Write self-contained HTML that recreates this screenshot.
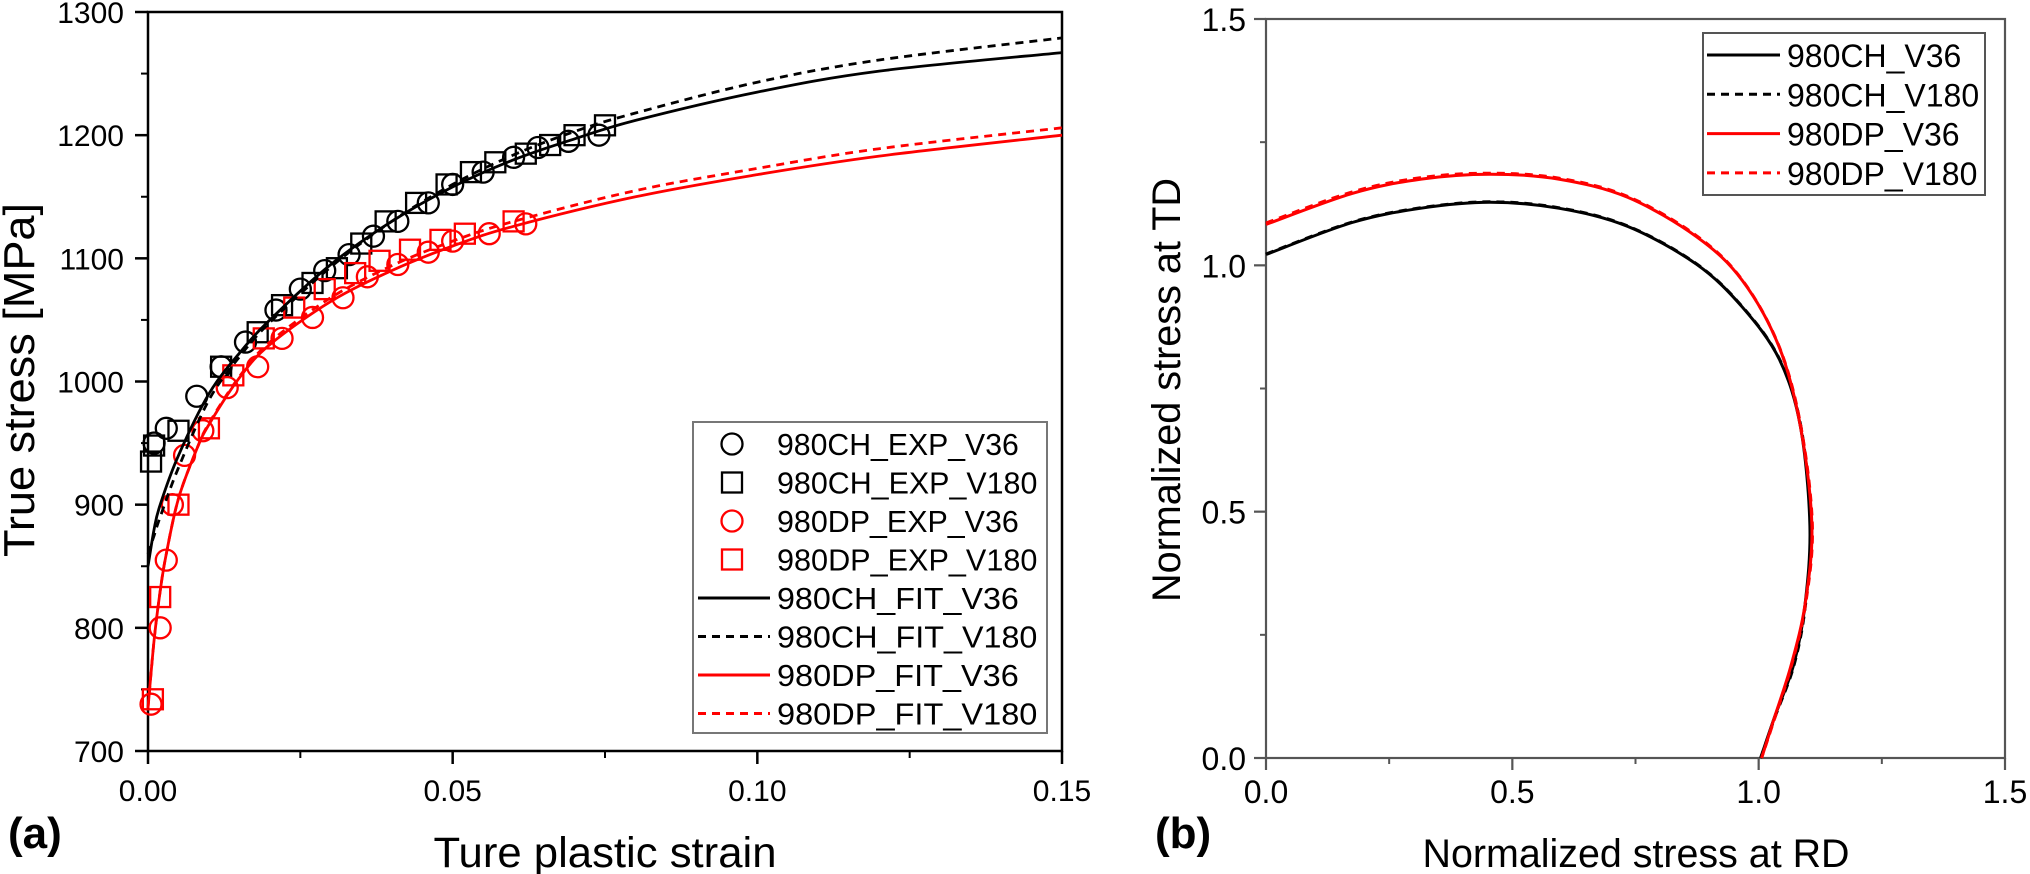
<!DOCTYPE html>
<html><head><meta charset="utf-8"><style>
html,body{margin:0;padding:0;background:#fff;}
svg{display:block;font-family:"Liberation Sans",Arial,sans-serif;}
</style></head><body>
<svg id="fig" width="2030" height="874" viewBox="0 0 2030 874" xmlns="http://www.w3.org/2000/svg">
<g id="pa"></g>
<g id="pb"></g>
</svg>
<script>
// ---------- Panel (a) data ----------
const aXTicks = [0, 0.05, 0.10, 0.15];
const aXTickLabels = ["0.00", "0.05", "0.10", "0.15"];
const aYTicks = [700, 800, 900, 1000, 1100, 1200, 1300];
const aYTickLabels = ["700", "800", "900", "1000", "1100", "1200", "1300"];

const chFitV36Strain = [0, 0.001, 0.002, 0.005, 0.01, 0.015, 0.02, 0.03, 0.04, 0.05, 0.06, 0.07, 0.08, 0.10, 0.12, 0.15];
const chFitV36Stress = [850, 880, 900, 940, 990, 1023, 1050, 1095, 1130, 1158, 1180, 1197, 1212, 1235, 1252, 1267];
const chFitV180Strain = [0, 0.001, 0.002, 0.005, 0.01, 0.015, 0.02, 0.03, 0.04, 0.05, 0.06, 0.07, 0.08, 0.10, 0.12, 0.15];
const chFitV180Stress = [860, 875, 890, 930, 985, 1020, 1048, 1093, 1130, 1160, 1184, 1203, 1218, 1243, 1261, 1279];
const dpFitV36Strain = [0, 0.001, 0.002, 0.003, 0.005, 0.008, 0.01, 0.015, 0.02, 0.03, 0.04, 0.05, 0.06, 0.08, 0.10, 0.12, 0.15];
const dpFitV36Stress = [735, 790, 830, 860, 905, 945, 965, 1003, 1030, 1065, 1090, 1110, 1126, 1150, 1168, 1183, 1200];
const dpFitV180Strain = [0, 0.001, 0.002, 0.003, 0.005, 0.008, 0.01, 0.015, 0.02, 0.03, 0.04, 0.05, 0.06, 0.08, 0.10, 0.12, 0.15];
const dpFitV180Stress = [735, 790, 830, 860, 905, 945, 966, 1004, 1032, 1068, 1094, 1114, 1130, 1155, 1173, 1189, 1206];

const chExpV36Strain = [0.001, 0.003, 0.008, 0.012, 0.016, 0.021, 0.025, 0.029, 0.033, 0.037, 0.041, 0.046, 0.050, 0.055, 0.060, 0.064, 0.069, 0.074];
const chExpV36Stress = [950, 962, 988, 1012, 1032, 1058, 1075, 1090, 1103, 1118, 1130, 1145, 1160, 1170, 1182, 1190, 1195, 1200];
const chExpV180Strain = [0.0005, 0.001, 0.005, 0.012, 0.018, 0.022, 0.027, 0.031, 0.035, 0.039, 0.044, 0.049, 0.053, 0.057, 0.062, 0.066, 0.070, 0.075];
const chExpV180Stress = [935, 948, 960, 1012, 1040, 1062, 1080, 1092, 1112, 1130, 1145, 1160, 1170, 1178, 1185, 1192, 1200, 1208];
const dpExpV36Strain = [0.0005, 0.002, 0.003, 0.004, 0.006, 0.009, 0.013, 0.018, 0.022, 0.027, 0.032, 0.036, 0.041, 0.046, 0.050, 0.056, 0.062];
const dpExpV36Stress = [738, 800, 855, 900, 940, 960, 995, 1012, 1035, 1052, 1068, 1085, 1095, 1105, 1114, 1120, 1128];
const dpExpV180Strain = [0.0008, 0.002, 0.005, 0.010, 0.014, 0.019, 0.024, 0.029, 0.034, 0.038, 0.043, 0.048, 0.052, 0.060];
const dpExpV180Stress = [742, 825, 900, 962, 1005, 1035, 1060, 1075, 1088, 1098, 1107, 1115, 1120, 1130];

// ---------- Panel (b) data ----------
const bTicks = [0, 0.5, 1.0, 1.5];
const bTickLabels = ["0.0", "0.5", "1.0", "1.5"];
const chV36RD = [0, 0.175, 0.315, 0.455, 0.594, 0.734, 0.874, 0.967, 1.042, 1.085, 1.104, 1.094, 1.071, 1.033, 1.004];
const chV36TD = [1.022, 1.087, 1.116, 1.128, 1.116, 1.079, 1.002, 0.915, 0.809, 0.672, 0.471, 0.311, 0.189, 0.085, 0];
const chV180RD = [0, 0.175, 0.315, 0.455, 0.594, 0.734, 0.874, 0.967, 1.042, 1.086, 1.105, 1.095, 1.072, 1.034, 1.004];
const chV180TD = [1.023, 1.088, 1.117, 1.129, 1.117, 1.080, 1.003, 0.916, 0.810, 0.672, 0.471, 0.311, 0.189, 0.085, 0];
const dpV36RD = [0, 0.175, 0.315, 0.455, 0.594, 0.734, 0.874, 0.967, 1.042, 1.085, 1.108, 1.094, 1.066, 1.033, 1.006];
const dpV36TD = [1.083, 1.146, 1.175, 1.185, 1.175, 1.138, 1.058, 0.969, 0.833, 0.672, 0.471, 0.311, 0.189, 0.085, 0];
const dpV180RD = [0, 0.175, 0.315, 0.455, 0.594, 0.734, 0.874, 0.967, 1.042, 1.086, 1.109, 1.095, 1.067, 1.034, 1.006];
const dpV180TD = [1.086, 1.149, 1.178, 1.187, 1.177, 1.140, 1.060, 0.970, 0.834, 0.672, 0.471, 0.311, 0.189, 0.085, 0];

const NS = "http://www.w3.org/2000/svg";
function mk(parent, tag, attrs, text) {
  const e = document.createElementNS(NS, tag);
  for (const k in attrs) e.setAttribute(k, attrs[k]);
  if (text !== undefined) e.textContent = text;
  parent.appendChild(e);
  return e;
}
// ---------- axes (a) ----------
const ax = v => 148 + v / 0.15 * 914;
const ay = s => 751 - (s - 700) / 600 * 739;
// ---------- axes (b) ----------
const bx = v => 1266 + v / 1.5 * 739;
const by = v => 758 - v / 1.5 * 739;

function smoothPath(xs, ys) {
  const p = xs.map((x, i) => [x, ys[i]]);
  let d = "M" + p[0][0].toFixed(1) + "," + p[0][1].toFixed(1);
  for (let i = 0; i < p.length - 1; i++) {
    const p0 = p[Math.max(0, i - 1)], p1 = p[i], p2 = p[i + 1], p3 = p[Math.min(p.length - 1, i + 2)];
    const c1x = p1[0] + (p2[0] - p0[0]) / 6, c1y = p1[1] + (p2[1] - p0[1]) / 6;
    const c2x = p2[0] - (p3[0] - p1[0]) / 6, c2y = p2[1] - (p3[1] - p1[1]) / 6;
    d += " C" + c1x.toFixed(1) + "," + c1y.toFixed(1) + " " + c2x.toFixed(1) + "," + c2y.toFixed(1) + " " + p2[0].toFixed(1) + "," + p2[1].toFixed(1);
  }
  return d;
}

const pa = document.getElementById("pa");
const pb = document.getElementById("pb");

// ===== Panel (a) =====
// frame
let el = mk(pa, "rect", {x: 148, y: 12, width: 914, height: 739, fill: "none", stroke: "#000", "stroke-width": 2.5});


// y ticks
aYTicks.forEach((v, i) => {
  const t = mk(pa, "line", {x1: 135, x2: 148, y1: ay(v), y2: ay(v), stroke: "#000", "stroke-width": 2.5});
  
  
  const lb = mk(pa, "text", {x: 124, y: ay(v) + 11, "text-anchor": "end", "font-size": 30, fill: "#000"}, aYTickLabels[i]);
  
  
  if (i < aYTicks.length - 1) {
    const m = mk(pa, "line", {x1: 141, x2: 148, y1: ay(v + 50), y2: ay(v + 50), stroke: "#000", "stroke-width": 2});
    
    
  }
});
aXTicks.forEach((v, i) => {
  const t = mk(pa, "line", {x1: ax(v), x2: ax(v), y1: 751, y2: 764, stroke: "#000", "stroke-width": 2.5});
  
  
  const lb = mk(pa, "text", {x: ax(v), y: 801, "text-anchor": "middle", "font-size": 30, fill: "#000"}, aXTickLabels[i]);
  
  
  if (i < aXTicks.length - 1) {
    const m = mk(pa, "line", {x1: ax(v + 0.025), x2: ax(v + 0.025), y1: 751, y2: 758, stroke: "#000", "stroke-width": 2});
    
    
  }
});
el = mk(pa, "text", {x: 605, y: 867, "text-anchor": "middle", "font-size": 43, textLength: 343, lengthAdjust: "spacingAndGlyphs"}, "Ture plastic strain");


el = mk(pa, "text", {x: 0, y: 0, "text-anchor": "middle", "font-size": 44, transform: "translate(34,380) rotate(-90)", textLength: 354, lengthAdjust: "spacingAndGlyphs"}, "True stress [MPa]");


el = mk(pa, "text", {x: 8, y: 848, "font-size": 44, "font-weight": "bold"}, "(a)");



// fit curves
const fits = [
  [chFitV36Strain, chFitV36Stress, "#000", null, "fit-980ch-v36"],
  [chFitV180Strain, chFitV180Stress, "#000", "8,6", "fit-980ch-v180"],
  [dpFitV36Strain, dpFitV36Stress, "#f00", null, "fit-980dp-v36"],
  [dpFitV180Strain, dpFitV180Stress, "#f00", "8,6", "fit-980dp-v180"],
];
const markerG = mk(pa, "g", {});


function circle(g, x, y, col, name) {
  const c = mk(g, "circle", {cx: x, cy: y, r: 10.5, fill: "none", stroke: col, "stroke-width": 2.3});
  
  
}
function square(g, x, y, col, name) {
  const c = mk(g, "rect", {x: x - 10, y: y - 10, width: 20, height: 20, fill: "none", stroke: col, "stroke-width": 2.3});
  
  
}
chExpV36Strain.forEach((v, i) => circle(markerG, ax(v), ay(chExpV36Stress[i]), "#000", "point-980ch-exp-v36"));
chExpV180Strain.forEach((v, i) => square(markerG, ax(v), ay(chExpV180Stress[i]), "#000", "point-980ch-exp-v180"));
dpExpV36Strain.forEach((v, i) => circle(markerG, ax(v), ay(dpExpV36Stress[i]), "#f00", "point-980dp-exp-v36"));
dpExpV180Strain.forEach((v, i) => square(markerG, ax(v), ay(dpExpV180Stress[i]), "#f00", "point-980dp-exp-v180"));
fits.forEach(f => {
  const a = {d: smoothPath(f[0].map(ax), f[1].map(ay)), fill: "none", stroke: f[2], "stroke-width": 2.8};
  if (f[3]) a["stroke-dasharray"] = f[3];
  const p = mk(pa, "path", a);
  
  
});

// legend (a)
const legA = mk(pa, "g", {});


el = mk(legA, "rect", {x: 693, y: 422, width: 354, height: 311, fill: "#fff", stroke: "#777", "stroke-width": 2});


const legAItems = [
  ["980CH_EXP_V36", "c", "#000", null],
  ["980CH_EXP_V180", "s", "#000", null],
  ["980DP_EXP_V36", "c", "#f00", null],
  ["980DP_EXP_V180", "s", "#f00", null],
  ["980CH_FIT_V36", "l", "#000", null],
  ["980CH_FIT_V180", "l", "#000", "8,6"],
  ["980DP_FIT_V36", "l", "#f00", null],
  ["980DP_FIT_V180", "l", "#f00", "8,6"],
];
legAItems.forEach((it, i) => {
  const y = 444 + i * 38.5;
  const g = mk(legA, "g", {});
  
  
  if (it[1] === "c") circle(g, 732, y, it[2], "legend-marker");
  else if (it[1] === "s") square(g, 732, y, it[2], "legend-marker");
  else {
    const a = {x1: 698, x2: 770, y1: y, y2: y, stroke: it[2], "stroke-width": 3};
    if (it[3]) a["stroke-dasharray"] = it[3];
    const l = mk(g, "line", a);
    
    
  }
  const t = mk(g, "text", {x: 777, y: y + 11, "font-size": 31, textLength: it[0].length * 18.6, lengthAdjust: "spacingAndGlyphs"}, it[0]);
  
  
});

// ===== Panel (b) =====
el = mk(pb, "rect", {x: 1266, y: 19, width: 739, height: 739, fill: "none", stroke: "#555", "stroke-width": 2.2});


bTicks.forEach((v, i) => {
  let t = mk(pb, "line", {x1: 1254, x2: 1266, y1: by(v), y2: by(v), stroke: "#555", "stroke-width": 2.2});
  
  
  t = mk(pb, "line", {x1: bx(v), x2: bx(v), y1: 758, y2: 770, stroke: "#555", "stroke-width": 2.2});
  
  
  let lb = mk(pb, "text", {x: 1246, y: by(v) + 12, "text-anchor": "end", "font-size": 32}, bTickLabels[i]);
  
  
  lb = mk(pb, "text", {x: bx(v), y: 803, "text-anchor": "middle", "font-size": 32}, bTickLabels[i]);
  
  
  if (i < bTicks.length - 1) {
    let m = mk(pb, "line", {x1: 1260, x2: 1266, y1: by(v + 0.25), y2: by(v + 0.25), stroke: "#555", "stroke-width": 2});
    
    
    m = mk(pb, "line", {x1: bx(v + 0.25), x2: bx(v + 0.25), y1: 758, y2: 764, stroke: "#555", "stroke-width": 2});
    
    
  }
});
el = mk(pb, "text", {x: 1636, y: 867, "text-anchor": "middle", "font-size": 40, textLength: 427, lengthAdjust: "spacingAndGlyphs"}, "Normalized stress at RD");


el = mk(pb, "text", {x: 0, y: 0, "text-anchor": "middle", "font-size": 40, transform: "translate(1180,390) rotate(-90)", textLength: 424, lengthAdjust: "spacingAndGlyphs"}, "Normalized stress at TD");


el = mk(pb, "text", {x: 1155, y: 848, "font-size": 44, "font-weight": "bold"}, "(b)");



const locus = [
  [chV36RD, chV36TD, "#000", null, "locus-980ch-v36"],
  [chV180RD, chV180TD, "#000", "8,6", "locus-980ch-v180"],
  [dpV36RD, dpV36TD, "#f00", null, "locus-980dp-v36"],
  [dpV180RD, dpV180TD, "#f00", "8,6", "locus-980dp-v180"],
];
locus.forEach(f => {
  const a = {d: smoothPath(f[0].map(bx), f[1].map(by)), fill: "none", stroke: f[2], "stroke-width": 3};
  if (f[3]) a["stroke-dasharray"] = f[3];
  const p = mk(pb, "path", a);
  
  
});

const legB = mk(pb, "g", {});


el = mk(legB, "rect", {x: 1703, y: 33, width: 282, height: 162, fill: "#fff", stroke: "#555", "stroke-width": 2});


const legBItems = [["980CH_V36", "#000", null], ["980CH_V180", "#000", "8,6"], ["980DP_V36", "#f00", null], ["980DP_V180", "#f00", "8,6"]];
legBItems.forEach((it, i) => {
  const y = 55 + i * 39.3;
  const g = mk(legB, "g", {});
  
  
  const a = {x1: 1707, x2: 1780, y1: y, y2: y, stroke: it[1], "stroke-width": 3};
  if (it[2]) a["stroke-dasharray"] = it[2];
  const l = mk(g, "line", a);
  
  
  const t = mk(g, "text", {x: 1787, y: y + 12, "font-size": 32}, it[0]);
  
  
});
</script>
</body></html>
